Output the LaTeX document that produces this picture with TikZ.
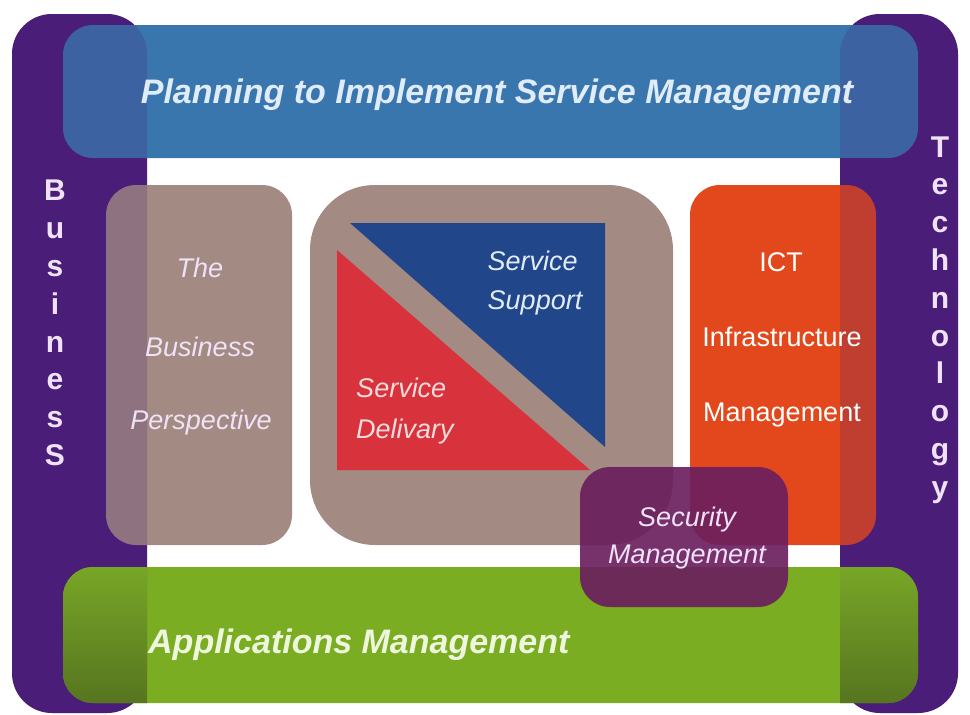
\documentclass[tikz,border=0pt]{standalone}
\usepackage{fontspec}
\setmainfont{Liberation Sans}
\definecolor{barpurple}{HTML}{4A1D78}
\definecolor{planblue}{HTML}{3A76AE}
\definecolor{appgreen}{HTML}{7AAD22}
\definecolor{mauve}{HTML}{A38A82}
\definecolor{ictorange}{HTML}{E2481C}
\definecolor{navy}{HTML}{22468A}
\definecolor{deliveryred}{HTML}{D8323C}
\definecolor{secpurple}{HTML}{6B1F5E}
\definecolor{lavtext}{HTML}{F0E2F8}
\definecolor{bluetext}{HTML}{E0ECF8}
\definecolor{greentext}{HTML}{EEF6DE}
\definecolor{pinktext}{HTML}{F6DCDC}
\tikzset{
  panel/.style={rectangle, inner sep=0pt, draw=none},
  boxtext/.style={font=\fontsize{27}{30}\selectfont\itshape, inner sep=0pt},
  bigtext/.style={font=\fontsize{34}{38}\selectfont\bfseries\itshape, inner sep=0pt},
  vert/.style={font=\fontsize{30}{37.8}\selectfont\bfseries, align=center, inner sep=0pt, text=lavtext}
}
\begin{document}
\begin{tikzpicture}[x=1pt,y=-1pt]
\useasboundingbox (0,0) rectangle (970,715);
% side bars
\node[panel, fill=barpurple, rounded corners=40pt, minimum width=135pt, minimum height=699pt] (bizbar) at (79.5,363.5) {};
\node[panel, fill=barpurple, rounded corners=40pt, minimum width=118pt, minimum height=699pt] (techbar) at (899,363.5) {};
% horizontal bars
\node[panel, fill=planblue, rounded corners=30pt, minimum width=855pt, minimum height=133pt] (plan) at (490.5,91.5) {};
\node[panel, fill=appgreen, rounded corners=30pt, minimum width=855pt, minimum height=136pt] (apps) at (490.5,635) {};
% inner boxes
\node[panel, fill=mauve, rounded corners=30pt, minimum width=186pt, minimum height=360pt] (persp) at (199,365) {};
\node[panel, fill=mauve, rounded corners=65pt, minimum width=363pt, minimum height=360pt] (core) at (491.5,365) {};
\node[panel, fill=ictorange, rounded corners=30pt, minimum width=186pt, minimum height=360pt] (ict) at (783,365) {};
% triangles
\fill[navy] (350,223) -- (605,223) -- (605,447) -- cycle;
\fill[deliveryred] (337,250) -- (337,470) -- (590,470) -- cycle;
% purple tint over overlaps
\node[panel, fill=barpurple, fill opacity=0.22, rounded corners=40pt, minimum width=135pt, minimum height=699pt] (biztint) at (79.5,363.5) {};
\node[panel, fill=barpurple, fill opacity=0.22, rounded corners=40pt, minimum width=118pt, minimum height=699pt] (techtint) at (899,363.5) {};
% shaded ends of the green bar
\begin{scope}
\path[clip, rounded corners=30pt] (63,567) rectangle (918,703);
\shade[top color=appgreen!95!barpurple, bottom color=appgreen!72!black!92!barpurple] (63,567) rectangle (147,703);
\shade[top color=appgreen!95!barpurple, bottom color=appgreen!72!black!92!barpurple] (840,567) rectangle (918,703);
\end{scope}
% security box
\node[panel, fill=secpurple, fill opacity=0.92, rounded corners=30pt, minimum width=208pt, minimum height=140pt] (sec) at (684,537) {};
% texts
\node[bigtext, text=bluetext] (plantext) at (497,95) {Planning to Implement Service Management};
\node[bigtext, text=greentext, anchor=west] (appstext) at (148,645) {Applications Management};
\node[vert] (biztext) at (55,323) {B\\u\\s\\i\\n\\e\\s\\S};
\node[vert] (techtext) at (940,320) {T\\e\\c\\h\\n\\o\\l\\o\\g\\y};
\node[boxtext, text=lavtext] (p1) at (200,268) {The};
\node[boxtext, text=lavtext] (p2) at (200,347) {Business};
\node[boxtext, text=lavtext] (p3) at (201,423) {Perspective};
\node[boxtext, text=bluetext, align=left, font=\fontsize{27}{39}\selectfont\itshape] (supp) at (535,283) {Service\\Support};
\node[boxtext, text=pinktext, align=left, font=\fontsize{27}{41}\selectfont\itshape] (deliv) at (405,411) {Service\\Delivary};
\node[boxtext, text=white, font=\fontsize{27}{30}\selectfont] (i1) at (781,262) {ICT};
\node[boxtext, text=white, font=\fontsize{27}{30}\selectfont] (i2) at (782,337) {Infrastructure};
\node[boxtext, text=white, font=\fontsize{27}{30}\selectfont] (i3) at (782,415) {Management};
\node[boxtext, text=lavtext, align=center, font=\fontsize{27}{37}\selectfont\itshape] (sectext) at (687,538) {Security\\Management};
\end{tikzpicture}
\end{document}
